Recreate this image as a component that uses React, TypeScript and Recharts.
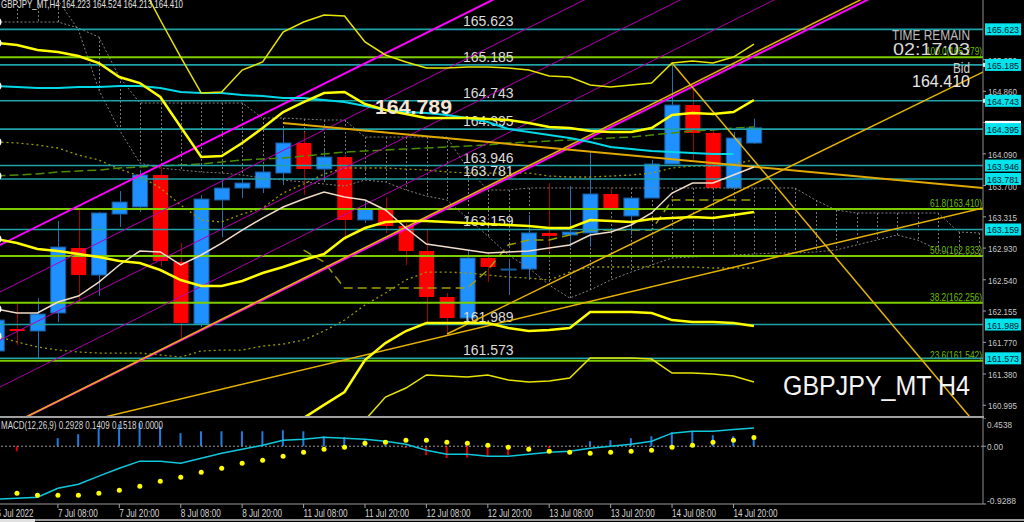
import React from "react";
import { ComposedChart, Line, Bar, XAxis, YAxis, ReferenceLine, Cell } from "recharts";

// bar slots on the H4 axis (slot -1 is the half-hidden first candle, 37..47 is the future cloud)
const BAR_INDEX = [
  -1, 0, 1, 2, 3, 4, 5, 6, 7, 8, 9, 10, 11, 12, 13, 14, 15, 16, 17, 18, 19, 20, 21, 22, 23, 24,
  25, 26, 27, 28, 29, 30, 31, 32, 33, 34, 35, 36, 37, 38, 39, 40, 41, 42, 43, 44, 45, 46, 47,
];
const TIME_TICKS = [-1, 2, 5, 8, 11, 14, 17, 20, 23, 26, 29, 32, 35];
const TIME_LABELS = [
  "6 Jul 2022", "7 Jul 08:00", "7 Jul 20:00", "8 Jul 08:00", "8 Jul 20:00", "11 Jul 08:00",
  "11 Jul 20:00", "12 Jul 08:00", "12 Jul 20:00", "13 Jul 08:00", "13 Jul 20:00", "14 Jul 08:00",
  "14 Jul 20:00",
];

// candles, slot -1 .. 36
const OPEN = [
  161.663, 161.934, 161.909, 162.131, 162.931, 162.598, 163.349, 163.436, 163.83, 162.758, 161.995,
  163.522, 163.669, 163.669, 163.854, 164.224, 163.903, 164.051, 163.276, 163.411, 163.202, 162.894,
  162.328, 162.069, 162.808, 162.66, 162.672, 163.116, 163.091, 163.116, 163.596, 163.325, 163.546,
  163.965, 164.691, 164.347, 163.669, 164.223,
];
const HIGH = [
  162.069, 162.254, 162.315, 163.263, 163.423, 163.374, 163.633, 163.891, 163.928, 162.992, 163.583,
  163.768, 163.793, 163.928, 164.384, 164.359, 164.137, 164.076, 163.522, 163.559, 163.239, 163.152,
  162.377, 162.894, 162.882, 162.795, 163.337, 163.731, 163.694, 164.113, 163.669, 163.546, 164.014,
  165.208, 164.901, 164.384, 164.359, 164.524,
];
const LOW = [
  161.614, 161.737, 161.577, 162.02, 162.254, 162.34, 163.189, 163.374, 162.697, 161.823, 161.958,
  163.066, 163.546, 163.608, 163.707, 163.583, 163.768, 163.029, 163.239, 163.116, 162.722, 162.02,
  161.884, 162.008, 162.512, 162.352, 162.537, 162.882, 162.943, 162.943, 163.399, 163.091, 163.546,
  163.965, 164.014, 163.669, 163.669, 164.213,
];
const CLOSE = [
  162.044, 161.909, 162.118, 162.943, 162.598, 163.362, 163.497, 163.83, 162.771, 162.008, 163.534,
  163.669, 163.731, 163.867, 164.224, 163.903, 164.051, 163.276, 163.411, 163.202, 162.894, 162.328,
  162.069, 162.808, 162.697, 162.672, 163.116, 163.079, 163.128, 163.596, 163.411, 163.546, 163.965,
  164.691, 164.347, 163.669, 164.285, 164.41,
];

// envelope bands
const BAND_UP_OUTER = [
  null, null, null, null, null, null, 166.7, 166.218, 165.738, 165.282, 164.839, 164.851, 165.122,
  165.221, 165.59, 165.713, 165.799, 165.787, 165.467, 165.307, 165.221, 165.147, 165.147, 165.159,
  165.159, 165.147, 165.122, 165.048, 165.036, 164.937, 164.913, 164.937, 164.962, 165.208, 165.233,
  165.208, 165.282, 165.442,
];
const BAND_UP = [
  165.455, 165.43, 165.368, 165.344, 165.295, 165.208, 165.036, 164.962, 164.79, 164.421, 164.051,
  164.063, 164.224, 164.408, 164.605, 164.728, 164.839, 164.851, 164.704, 164.63, 164.581, 164.531,
  164.531, 164.531, 164.519, 164.507, 164.47, 164.421, 164.408, 164.371, 164.359, 164.359, 164.408,
  164.568, 164.593, 164.581, 164.605, 164.753,
];
const BAND_MID = [
  163.042, 162.992, 162.919, 162.894, 162.857, 162.82, 162.771, 162.746, 162.66, 162.537, 162.463,
  162.463, 162.525, 162.623, 162.697, 162.783, 162.857, 163.054, 163.177, 163.251, 163.263, 163.263,
  163.251, 163.239, 163.226, 163.214, 163.202, 163.177, 163.177, 163.276, 163.263, 163.251, 163.288,
  163.3, 163.313, 163.3, 163.337, 163.374,
];
const BAND_LOW = [
  null, null, null, null, null, null, null, null, null, null, null, null, null, null, null, 160.838,
  161.0, 161.158, 161.552, 161.761, 161.909, 162.008, 162.008, 162.008, 162.008, 161.946, 161.909,
  161.921, 161.946, 162.143, 162.143, 162.143, 162.131, 162.044, 162.02, 162.02, 162.008, 161.971,
];
const BAND_LOW_OUTER = [
  null, null, null, null, null, null, null, null, null, null, null, null, null, null, null, null,
  null, null, 160.813, 161.096, 161.207, 161.368, 161.355, 161.343, 161.368, 161.306, 161.281,
  161.294, 161.331, 161.577, 161.577, 161.577, 161.564, 161.392, 161.392, 161.38, 161.355, 161.281,
];

// moving averages
const MA_SLOW = [
  164.925, 164.913, 164.901, 164.901, 164.913, 164.913, 164.925, 164.925, 164.901, 164.851, 164.839,
  164.839, 164.814, 164.802, 164.777, 164.777, 164.753, 164.728, 164.679, 164.63, 164.605, 164.593,
  164.568, 164.531, 164.482, 164.396, 164.359, 164.322, 164.285, 164.236, 164.174, 164.15, 164.125,
  164.113, 164.101, 164.088, 164.088,
];
const MA_FAST = [
  162.18, 162.131, 162.131, 162.266, 162.34, 162.512, 162.722, 162.894, 162.882, 162.722, 162.845,
  162.992, 163.152, 163.3, 163.436, 163.534, 163.62, 163.559, 163.522, 163.399, 163.177, 162.98,
  162.943, 162.906, 162.869, 162.882, 162.894, 162.931, 162.968, 163.091, 163.128, 163.214, 163.362,
  163.608, 163.731, 163.731, 163.83, 163.928,
];

// ichimoku-like lines
const SPAN_A = [
  165.713, 165.713, 165.713, 165.713, 165.639, 165.528, 165.036, 164.716, 164.716, 164.716, 164.716,
  164.716, 164.716, 164.531, 164.531, 164.519, 164.507, 164.507, 164.297, 164.297, 164.297, 164.297,
  164.297, 163.916, 163.645, 163.645, 163.67, 163.67, 163.67, 163.67, 163.67, 163.67, 163.67, 163.67,
  163.67, 163.67, 163.67, 163.67, 163.67, 163.67, 163.522, 163.399, 163.362, 163.362, 163.362,
  163.362, 163.362, 163.128, 163.116,
];
const SPAN_B = [
  166.23, 166.169, 166.046, 165.984, 165.615, 164.876, 164.384, 163.977, 163.916, 163.891, 163.867,
  163.854, 163.83, 163.793, 163.768, 163.743, 163.719, 163.694, 163.768, 163.743, 163.645, 163.571,
  163.522, 163.3, 163.079, 162.845, 162.685, 162.475, 162.315, 162.414, 162.537, 162.635, 162.722,
  162.808, 162.82, 162.832, 162.845, 162.857, 162.869, 162.869, 162.882, 162.906, 162.968, 163.029,
  163.091, 163.029, 162.906, 162.845, 162.845,
];
const KIJUN = [
  163.817, 163.83, 163.842, 163.867, 163.879, 163.891, 163.916, 163.928, 163.94, 163.953, 163.965,
  163.99, 164.014, 164.027, 164.039, 164.063, 164.088, 164.113, 164.125, 164.137, 164.15, 164.162,
  164.174, 164.187, 164.199, 164.224, 164.236, 164.248, 164.26, 164.273, 164.285, 164.297, 164.322,
  164.347, 164.371, 164.384, 164.408, 164.421,
];
const TENKAN = [
  null, null, null, null, null, null, null, null, null, null, null, null, null, null, null, 162.906,
  162.758, 162.438, 162.438, 162.438, 162.438, 162.438, 162.438, 162.438, 162.66, 162.968, 163.029,
  163.029, 163.091, 163.153, 163.153, 163.153, 163.153, 163.522, 163.522, 163.522, 163.522, 163.522,
];
const DOT_UP = [
  164.236, 164.224, 164.199, 164.162, 164.076, 164.014, 163.903, 163.817, 163.67, 163.46, 163.276,
  163.251, 163.349, 163.423, 163.608, 163.719, 163.842, 163.916, 163.916, 163.916, 163.903, 163.891,
  163.867, 163.854, 163.854, 163.854, 163.854, 163.817, 163.805, 163.805, 163.817, 163.83, 163.854,
  163.916, 163.94, 163.94, 163.965, 164.014,
];
const DOT_LOW = [
  161.847, 161.774, 161.712, 161.675, 161.651, 161.638, 161.638, 161.638, 161.614, 161.589, 161.663,
  161.675, 161.675, 161.724, 161.749, 161.798, 161.909, 162.044, 162.229, 162.377, 162.537, 162.635,
  162.635, 162.623, 162.598, 162.574, 162.562, 162.537, 162.635, 162.697, 162.697, 162.697, 162.697,
  162.697, 162.697, 162.685, 162.685, 162.685,
];

// horizontal levels
const LEVELS = [165.623, 165.185, 164.743, 164.395, 163.946, 163.781, 163.159, 161.989, 161.573];
const MARKED_LEVELS = [165.185, 164.743];
const FIB_LEVELS = [165.279, 163.41, 162.833, 162.256, 161.542];
const FIB_NAMES = ["100.0", "61.8", "50.0", "38.2", "23.6"];
const PRICE_TICKS = [
  165.25, 164.86, 164.475, 164.09, 163.7, 163.315, 162.93, 162.54, 162.155, 161.77, 161.38, 160.995,
];
const BID = 164.41;
const PRICE_DOMAIN = [160.863, 165.984];

// trend lines: [slot1, price1, slot2, price2]
const TREND_POINTS = [
  [-3, 162.696, 26, 166.332],
  [-0.83, 162.389, 28.48, 166.082],
  [-0.83, 161.798, 33.37, 166.107],
  [-0.83, 161.22, 38.25, 166.144],
  [-0.83, 160.69, 43.14, 166.186],
  [-0.83, 160.69, 43.14, 166.23],
  [12.99, 164.47, 48.02, 163.65],
  [21.01, 161.872, 48.02, 165.2],
  [2.1, 160.72, 48.02, 163.474],
  [32, 165.208, 47.29, 160.629],
];
const TREND_STYLE = [
  { stroke: "#ff00ff", w: 2 },
  { stroke: "#b000b0", w: 1 },
  { stroke: "#b000b0", w: 1 },
  { stroke: "#b000b0", w: 1 },
  { stroke: "#ff00ff", w: 2 },
  { stroke: "#e6b400", w: 1.5 },
  { stroke: "#e0a800", w: 2 },
  { stroke: "#e6b400", w: 1.5 },
  { stroke: "#e6b400", w: 1.5 },
  { stroke: "#e6b400", w: 1.5 },
];

// MACD panel, slot -1 .. 36
const MACD_MAIN = [
  -0.85, -0.836, -0.82, -0.675, -0.61, -0.48, -0.354, -0.24, -0.24, -0.273, -0.193, -0.113, -0.048,
  0.016, 0.096, 0.113, 0.145, 0.129, 0.113, 0.08, 0.032, -0.064, -0.129, -0.129, -0.16, -0.16, -0.129,
  -0.096, -0.08, -0.032, 0, 0.032, 0.08, 0.21, 0.24, 0.24, 0.27, 0.2928,
];
const MACD_SIGNAL = [
  null, -0.756, -0.788, -0.788, -0.788, -0.756, -0.707, -0.643, -0.563, -0.498, -0.418, -0.354, -0.273,
  -0.225, -0.161, -0.096, -0.048, -0.016, 0.048, 0.064, 0.096, 0.096, 0.064, 0.048, 0.016, -0.016,
  -0.048, -0.08, -0.096, -0.113, -0.096, -0.08, -0.064, -0.016, 0.016, 0.064, 0.096, 0.1409,
];
const MACD_HIST = [
  null, -0.08, null, 0.129, 0.193, 0.289, 0.354, 0.37, 0.32, 0.21, 0.24, 0.24, 0.24, 0.24, 0.257, 0.24,
  0.16, 0.145, 0.096, 0.02, -0.03, -0.145, -0.19, -0.18, -0.16, -0.145, -0.08, -0.03, 0.01, 0.08,
  0.096, 0.129, 0.16, 0.225, 0.24, 0.177, 0.16, 0.1518,
];
const MACD_TICKS = [0.4538, 0, -0.9288];
const MACD_DOMAIN = [-0.9288, 0.4538];

const X_DOMAIN = [-1.807, 47.19];
const AXIS_X = 1003; // svg x of the price axis line (charts are shifted 20px left)
const SANS = "'Liberation Sans', Arial, sans-serif";

// squeeze a label to the pixel width the terminal's narrow font gives it
const fit = (s: string, perChar: number) => ({
  textLength: Math.round(s.length * perChar),
  lengthAdjust: "spacingAndGlyphs" as const,
});

const rows = BAR_INDEX.map((i, k) => {
  const a = SPAN_A[k];
  const b = SPAN_B[k];
  return {
    i,
    open: OPEN[k],
    high: HIGH[k],
    low: LOW[k],
    close: CLOSE[k],
    range: HIGH[k] != null ? [LOW[k], HIGH[k]] : null,
    cloud: a != null && b != null ? [Math.min(a, b), Math.max(a, b)] : null,
    upOuter: BAND_UP_OUTER[k] ?? null,
    up: BAND_UP[k] ?? null,
    mid: BAND_MID[k] ?? null,
    low2: BAND_LOW[k] ?? null,
    lowOuter: BAND_LOW_OUTER[k] ?? null,
    maSlow: MA_SLOW[k] ?? null,
    maFast: MA_FAST[k] ?? null,
    spanA: a,
    spanB: b,
    kijun: KIJUN[k] ?? null,
    tenkan: TENKAN[k] ?? null,
    dotUp: DOT_UP[k] ?? null,
    dotLow: DOT_LOW[k] ?? null,
    macd: MACD_MAIN[k] ?? null,
    signal: MACD_SIGNAL[k] ?? null,
    hist: MACD_HIST[k] ?? null,
  };
});

function Candle(props: any) {
  const { x, y, width, height, payload } = props;
  if (!payload || payload.open == null || !isFinite(y)) return null;
  const { open, close, high, low } = payload;
  const k = high > low ? height / (high - low) : 0;
  const top = y + (high - Math.max(open, close)) * k;
  const bh = Math.max(1, Math.abs(open - close) * k);
  const bull = close >= open;
  const cx = Math.round(x + width / 2) + 0.5;
  return (
    <g>
      <line x1={cx} x2={cx} y1={y} y2={y + height} stroke={bull ? "#2a6cb0" : "#a80000"} />
      <rect
        x={x}
        y={top}
        width={width}
        height={bh}
        fill={bull ? "#1e90ff" : "#ff0000"}
        stroke={bull ? "#1a5a98" : "none"}
        strokeWidth={1}
      />
    </g>
  );
}

function Hatch(props: any) {
  const { x, y, width, height } = props;
  if (!isFinite(y) || !isFinite(height)) return null;
  const cx = Math.round(x + width / 2) + 0.5;
  return <line x1={cx} x2={cx} y1={y} y2={y + height} stroke="#7a7a7a" strokeDasharray="2 2" />;
}

function LevelLabel(props: any) {
  const { viewBox, text } = props;
  if (!viewBox) return null;
  return (
    <text x={viewBox.x + 483} y={viewBox.y - 3} fill="#dcdcdc" fontSize={14} fontFamily={SANS}>
      {text}
    </text>
  );
}

function FibLabel(props: any) {
  const { viewBox, text } = props;
  if (!viewBox) return null;
  const w = Math.round(text.length * 4);
  return (
    <text
      x={viewBox.x + viewBox.width - 1 - w}
      y={viewBox.y - 2}
      fill="#6cbc00"
      fontSize={10.5}
      fontFamily={SANS}
      {...fit(text, 4)}
    >
      {text}
    </text>
  );
}

function PriceTick(props: any) {
  const { y, payload } = props;
  const v = payload.value;
  const label = v.toFixed(3);
  if (LEVELS.includes(v)) {
    return (
      <g>
        {MARKED_LEVELS.includes(v) && <rect x={AXIS_X} y={y - 2} width={3} height={4} fill="#e8e8e8" />}
        <rect x={AXIS_X + 2} y={y - 6} width={36} height={12} fill="#00e4ee" />
        <text x={AXIS_X + 4} y={y + 4} fill="#00202a" fontSize={9.5} fontFamily={SANS} textLength={32} lengthAdjust="spacingAndGlyphs">
          {label}
        </text>
      </g>
    );
  }
  if (v === BID) {
    return <rect x={AXIS_X + 2} y={y - 7} width={36} height={12} fill="#ffffff" />;
  }
  return (
    <g>
      <line x1={AXIS_X} x2={AXIS_X + 3} y1={y} y2={y} stroke="#a0a0a0" />
      <text x={AXIS_X + 5} y={y + 4} fill="#c8c8c8" fontSize={9.5} fontFamily={SANS} textLength={29} lengthAdjust="spacingAndGlyphs">
        {label}
      </text>
    </g>
  );
}

function MacdTick(props: any) {
  const { y, payload } = props;
  const v = payload.value;
  const dy = v > 0 ? 10 : v < 0 ? 0 : 4;
  const label = v === 0 ? "0.00" : String(v);
  return (
    <g>
      <line x1={AXIS_X} x2={AXIS_X + 3} y1={y} y2={y} stroke="#a0a0a0" />
      <text x={AXIS_X + 4} y={y + dy} fill="#c8c8c8" fontSize={9.5} fontFamily={SANS} {...fit(label, 4.1)}>
        {label}
      </text>
    </g>
  );
}

function TimeTick(props: any) {
  const { x, y, payload } = props;
  const label = TIME_LABELS[TIME_TICKS.indexOf(payload.value)] ?? "";
  return (
    <g>
      <line x1={x} x2={x} y1={y - 8} y2={y - 4} stroke="#a0a0a0" />
      <text x={x} y={y + 5} fill="#d4d4d4" fontSize={11} fontFamily={SANS} {...fit(label, 3.65)}>
        {label}
      </text>
    </g>
  );
}

const band = (key: string, color: string, w: number, dash?: string) => (
  <Line
    key={key}
    dataKey={key}
    stroke={color}
    strokeWidth={w}
    strokeDasharray={dash}
    dot={false}
    type="linear"
    isAnimationActive={false}
  />
);

export default function App() {
  return (
    <div
      style={{
        position: "fixed",
        left: 0,
        top: 0,
        width: 1024,
        height: 522,
        background: "#000",
        overflow: "hidden",
      }}
    >
      <div style={{ position: "absolute", left: -20, top: 0 }}>
        <ComposedChart width={1044} height={416} data={rows} margin={{ top: 0, right: 0, bottom: 0, left: 0 }}>
          <XAxis dataKey="i" type="number" domain={X_DOMAIN} allowDataOverflow hide />
          <XAxis xAxisId="c" dataKey="i" type="number" domain={X_DOMAIN} allowDataOverflow hide />
          <XAxis xAxisId="h" dataKey="i" type="number" domain={X_DOMAIN} allowDataOverflow hide />
          <YAxis
            orientation="right"
            width={41}
            domain={PRICE_DOMAIN}
            allowDataOverflow
            ticks={[...PRICE_TICKS, BID, ...LEVELS]}
            interval={0}
            tick={<PriceTick />}
            tickLine={false}
            axisLine={{ stroke: "#8c8c8c" }}
          />
          <Bar xAxisId="h" dataKey="cloud" barSize={1} shape={<Hatch />} isAnimationActive={false} />
          <Bar xAxisId="c" dataKey="range" barSize={15} shape={<Candle />} isAnimationActive={false} />
          {band("spanA", "#808080", 1, "2 2")}
          {band("spanB", "#808080", 1, "2 2")}
          {band("dotUp", "#9a9a00", 1.3, "2 3")}
          {band("dotLow", "#9a9a00", 1.3, "2 3")}
          {band("kijun", "#4a8c00", 1.5, "9 4")}
          {band("tenkan", "#a0a000", 1.5, "9 5")}
          {FIB_LEVELS.map((v, k) => (
            <ReferenceLine
              key={"f" + v}
              y={v}
              stroke="#7ccd00"
              strokeWidth={2}
              label={<FibLabel text={`${FIB_NAMES[k]}(${v.toFixed(3)})`} />}
            />
          ))}
          {LEVELS.map((v) => (
            <ReferenceLine
              key={"l" + v}
              y={v}
              stroke="#1fa2a8"
              strokeWidth={1.6}
              label={<LevelLabel text={v.toFixed(3)} />}
            />
          ))}
          {TREND_POINTS.map((t, k) => (
            <ReferenceLine
              key={"t" + k}
              segment={[
                { x: t[0], y: t[1] },
                { x: t[2], y: t[3] },
              ]}
              stroke={TREND_STYLE[k].stroke}
              strokeWidth={TREND_STYLE[k].w}
              ifOverflow="hidden"
            />
          ))}
          {band("maSlow", "#00d8e8", 2)}
          {band("maFast", "#f0dcc8", 1.5)}
          {band("upOuter", "#e6e600", 1.5)}
          {band("up", "#ffff00", 2.5)}
          {band("mid", "#ffff00", 2.5)}
          {band("low2", "#ffff00", 2.5)}
          {band("lowOuter", "#e6e600", 1.5)}
        </ComposedChart>
      </div>

      <div style={{ position: "absolute", left: -20, top: 418 }}>
        <ComposedChart width={1044} height={104} data={rows} margin={{ top: 0, right: 0, bottom: 0, left: 0 }}>
          <XAxis
            dataKey="i"
            type="number"
            domain={X_DOMAIN}
            allowDataOverflow
            ticks={TIME_TICKS}
            interval={0}
            height={18}
            tick={<TimeTick />}
            tickLine={false}
            axisLine={{ stroke: "#9a9a9a" }}
          />
          <YAxis
            orientation="right"
            width={41}
            domain={MACD_DOMAIN}
            allowDataOverflow
            ticks={MACD_TICKS}
            interval={0}
            tick={<MacdTick />}
            tickLine={false}
            axisLine={{ stroke: "#8c8c8c" }}
          />
          <ReferenceLine y={0} stroke="#9a9a9a" strokeDasharray="2 2" />
          <Bar dataKey="hist" barSize={2} isAnimationActive={false}>
            {rows.map((r) => (
              <Cell key={r.i} fill={r.hist != null && r.hist < 0 ? "#e00000" : "#1e7ee0"} />
            ))}
          </Bar>
          <Line dataKey="macd" stroke="#10c8dc" strokeWidth={1.5} dot={false} type="linear" isAnimationActive={false} />
          <Line
            dataKey="signal"
            stroke="none"
            dot={{ r: 2.5, fill: "#ffff00", stroke: "none" }}
            type="linear"
            isAnimationActive={false}
          />
        </ComposedChart>
      </div>

      <div style={{ position: "absolute", left: 0, top: 416, width: 984, height: 2, background: "#a0a0a0" }} />
      <div style={{ position: "absolute", left: 0, top: 519, width: 1024, height: 2, background: "#9a9a9a" }} />
      <div style={{ position: "absolute", left: 0, top: 519, width: 35, height: 3, background: "#e0e0e0" }} />

      <svg width={1024} height={522} style={{ position: "absolute", left: 0, top: 0, pointerEvents: "none" }}>
        <text x={1} y={8} fill="#e0e0e0" fontSize={11} fontFamily={SANS} textLength={182} lengthAdjust="spacingAndGlyphs">
          GBPJPY_MT,H4  164.223 164.524 164.213 164.410
        </text>
        <text x={375} y={114} fill="#f3e6d6" fontSize={21} fontWeight="bold" fontFamily={SANS} textLength={77} lengthAdjust="spacingAndGlyphs">
          164.789
        </text>
        <text x={892} y={40} fill="#bcbcbc" fontSize={14} fontFamily={SANS} textLength={78} lengthAdjust="spacingAndGlyphs">
          TIME REMAIN
        </text>
        <text x={893} y={55} fill="#d8d8d8" fontSize={17} fontFamily={SANS} textLength={77} lengthAdjust="spacingAndGlyphs">
          02:17:03
        </text>
        <text x={953} y={73} fill="#d0d0d0" fontSize={14} fontFamily={SANS} textLength={17} lengthAdjust="spacingAndGlyphs">
          Bid
        </text>
        <text x={912} y={87} fill="#e8e8e8" fontSize={17} fontFamily={SANS} textLength={58} lengthAdjust="spacingAndGlyphs">
          164.410
        </text>
        <text x={783} y={395} fill="#f4f4f4" fontSize={27} fontFamily={SANS} textLength={187} lengthAdjust="spacingAndGlyphs">
          GBPJPY_MT H4
        </text>
        <text x={1} y={429} fill="#d8d8d8" fontSize={11} fontFamily={SANS} textLength={162} lengthAdjust="spacingAndGlyphs">
          MACD(12,26,9) 0.2928 0.1409 0.1518 0.0000
        </text>
      </svg>
    </div>
  );
}
